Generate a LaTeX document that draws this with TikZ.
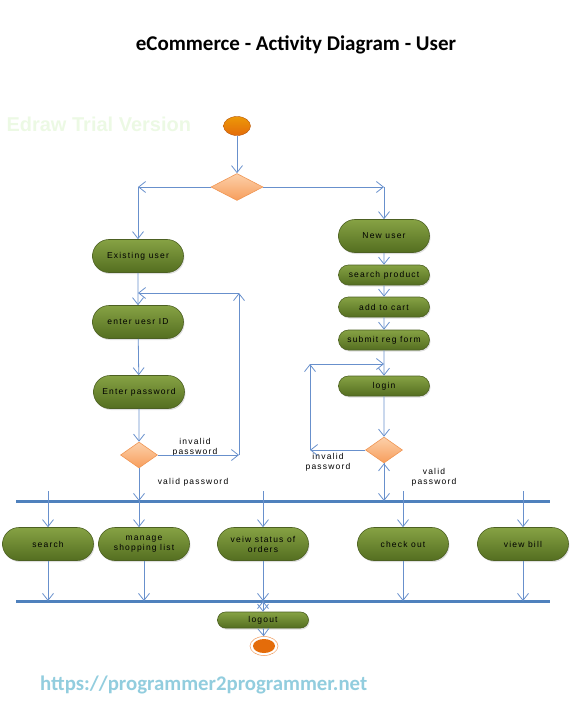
\documentclass[tikz,border=0pt]{standalone}
\usepackage{fontspec}
\newfontfamily\actfont[LetterSpace=14]{Liberation Sans}
\newfontfamily\headfont{Carlito}
\newfontfamily\markfont{Liberation Sans}
\usetikzlibrary{shapes.geometric,shapes.misc,arrows.meta,shadows}

\definecolor{actlight}{RGB}{134,162,68}
\definecolor{actdark}{RGB}{84,110,32}
\definecolor{actedge}{RGB}{76,96,34}
\definecolor{declight}{RGB}{252,208,170}
\definecolor{decdark}{RGB}{247,158,92}
\definecolor{decedge}{RGB}{240,150,84}
\definecolor{ballorange}{RGB}{228,108,10}
\definecolor{balledge}{RGB}{184,86,12}
\definecolor{lineblue}{RGB}{104,144,204}
\definecolor{barblue}{RGB}{79,129,189}
\definecolor{urlblue}{RGB}{146,205,222}
\definecolor{markgreen}{RGB}{236,249,228}

\begin{document}
\begin{tikzpicture}[
    x=1pt, y=-1pt,
    actnode/.style={
      rounded rectangle, draw=actedge, line width=0.6pt,
      top color=actlight, bottom color=actdark,
      drop shadow={shadow xshift=1pt,shadow yshift=-1.5pt,opacity=.25},
      minimum width=91pt, minimum height=33pt, inner sep=0pt,
      font=\actfont\fontsize{8.5}{10}\selectfont, align=center,
    },
    smallact/.style={actnode, minimum height=20pt},
    decision/.style={
      diamond, draw=decedge, line width=0.6pt,
      top color=declight, bottom color=decdark,
      minimum width=37pt, minimum height=26pt, inner sep=0pt,
    },
    guard/.style={font=\actfont\fontsize{8.5}{10}\selectfont, align=center, inner sep=0pt},
    bar/.style={draw=barblue, line width=3pt},
  ]
  \useasboundingbox (0,0) rectangle (578,708);

  % title, watermark and link
  \node[font=\headfont\bfseries\fontsize{21}{25}\selectfont] (title) at (296,45)
    {eCommerce - Activity Diagram - User};
  \node[anchor=west, text=markgreen, font=\markfont\bfseries\fontsize{20}{24}\selectfont]
    (trial) at (3,124) {Edraw Trial Version};
  \node[anchor=base west, text=urlblue, inner sep=0pt,
    font=\headfont\bfseries\fontsize{20.8}{25}\selectfont]
    (link) at (40,690) {https://programmer2programmer.net};

  % start, decisions and activities
  \node[ellipse, draw=balledge, top color=ballorange!70!yellow, bottom color=ballorange,
    minimum width=27pt, minimum height=19pt, inner sep=0pt] (start) at (237,126) {};
  \node[decision, minimum width=52pt, minimum height=27pt] (d1) at (237,187) {};

  \node[actnode] (exist)    at (138,256) {Existing user};
  \node[actnode] (enterid)  at (138,322) {enter uesr ID};
  \node[actnode] (enterpw)  at (139,392) {Enter password};
  \node[decision] (d2)      at (139,455) {};

  \node[actnode]  (newuser) at (384,236) {New user};
  \node[smallact] (product) at (384,275) {search product};
  \node[smallact] (cart)    at (384,307) {add to cart};
  \node[smallact] (regform) at (384,340) {submit reg form};
  \node[smallact] (login)   at (384,386) {login};
  \node[decision] (d3)      at (384,450) {};

  \node[actnode] (search)   at (48,544)  {search};
  \node[actnode] (manage)   at (144,544) {manage\\shopping list};
  \node[actnode] (status)   at (263,544) {veiw status of\\orders};
  \node[actnode] (checkout) at (403,544) {check out};
  \node[actnode] (bill)     at (523,544) {view bill};

  \node[smallact, minimum height=16pt] (logout) at (263,620) {logout};
  \node[ellipse, draw=decedge, fill=white, line width=0.5pt,
    minimum width=28pt, minimum height=19pt, inner sep=0pt] (finish) at (264,646) {};
  \node[ellipse, fill=ballorange, minimum width=22pt, minimum height=14pt,
    inner sep=0pt] (finishdot) at (finish) {};

  % guards
  \node[guard] (bad-l)  at (195,447) {invalid\\password};
  \node[guard] (good-l) at (193,482) {valid password};
  \node[guard] (bad-r)  at (328,462) {invalid\\password};
  \node[guard] (good-r) at (434,477) {valid\\password};

  % fork and join bars
  \coordinate (fork-w) at (16,501);
  \coordinate (fork-e) at (550,501);
  \coordinate (fork-top) at (0,491);
  \coordinate (join-w) at (16,601);
  \coordinate (join-e) at (550,601);
  \draw[bar] (fork-w) -- (fork-e);
  \draw[bar] (join-w) -- (join-e);

  % corners of the branches and loops
  \coordinate (branch-l) at (138,187);
  \coordinate (branch-r) at (384,187);
  \coordinate (loopl-top) at (239,293);
  \coordinate (loopl-bot) at (239,455);
  \coordinate (loopr-top) at (310,364);
  \coordinate (loopr-bot) at (310,450);

  \begin{scope}[
    every path/.style={draw=lineblue, line width=0.8pt,
      -{Straight Barb[length=7pt,width=11pt]}},
    ]
    \path
    (start)    edge (d1)
    (d1.west)  edge (branch-l)
    (branch-l) edge (exist)
    (d1.east)  edge (branch-r)
    (branch-r) edge (newuser)
    (exist)    edge (enterid)
    (enterid)  edge (enterpw)
    (enterpw)  edge (d2)
    (d2.east)  edge (loopl-bot)
    (loopl-bot) edge (loopl-top)
    (loopl-top) edge (loopl-top -| exist.south)
    (d2.south) edge (d2.south |- fork-w)
    (newuser)  edge (product)
    (product)  edge (cart)
    (cart)     edge (regform)
    (regform)  edge (login)
    (login)    edge (d3)
    (d3.west)  edge (loopr-bot)
    (loopr-bot) edge (loopr-top)
    (loopr-top) edge (loopr-top -| login.north)
    (d3.south) edge (d3.south |- fork-w);
    \path
    (search.north |- fork-top)   edge (search.north)
    (d2.south |- fork-w)         edge (manage.north -| d2.south)
    (status.north |- fork-top)   edge (status.north)
    (checkout.north |- fork-top) edge (checkout.north)
    (bill.north |- fork-top)     edge (bill.north)
    (search.south)   edge (search.south |- join-w)
    (manage.south)   edge (manage.south |- join-w)
    (status.south)   edge (status.south |- join-w)
    (checkout.south) edge (checkout.south |- join-w)
    (bill.south)     edge (bill.south |- join-w)
    (logout.north |- join-w) edge (logout.north)
    (logout)         edge (finish);
  \end{scope}
\end{tikzpicture}
\end{document}
